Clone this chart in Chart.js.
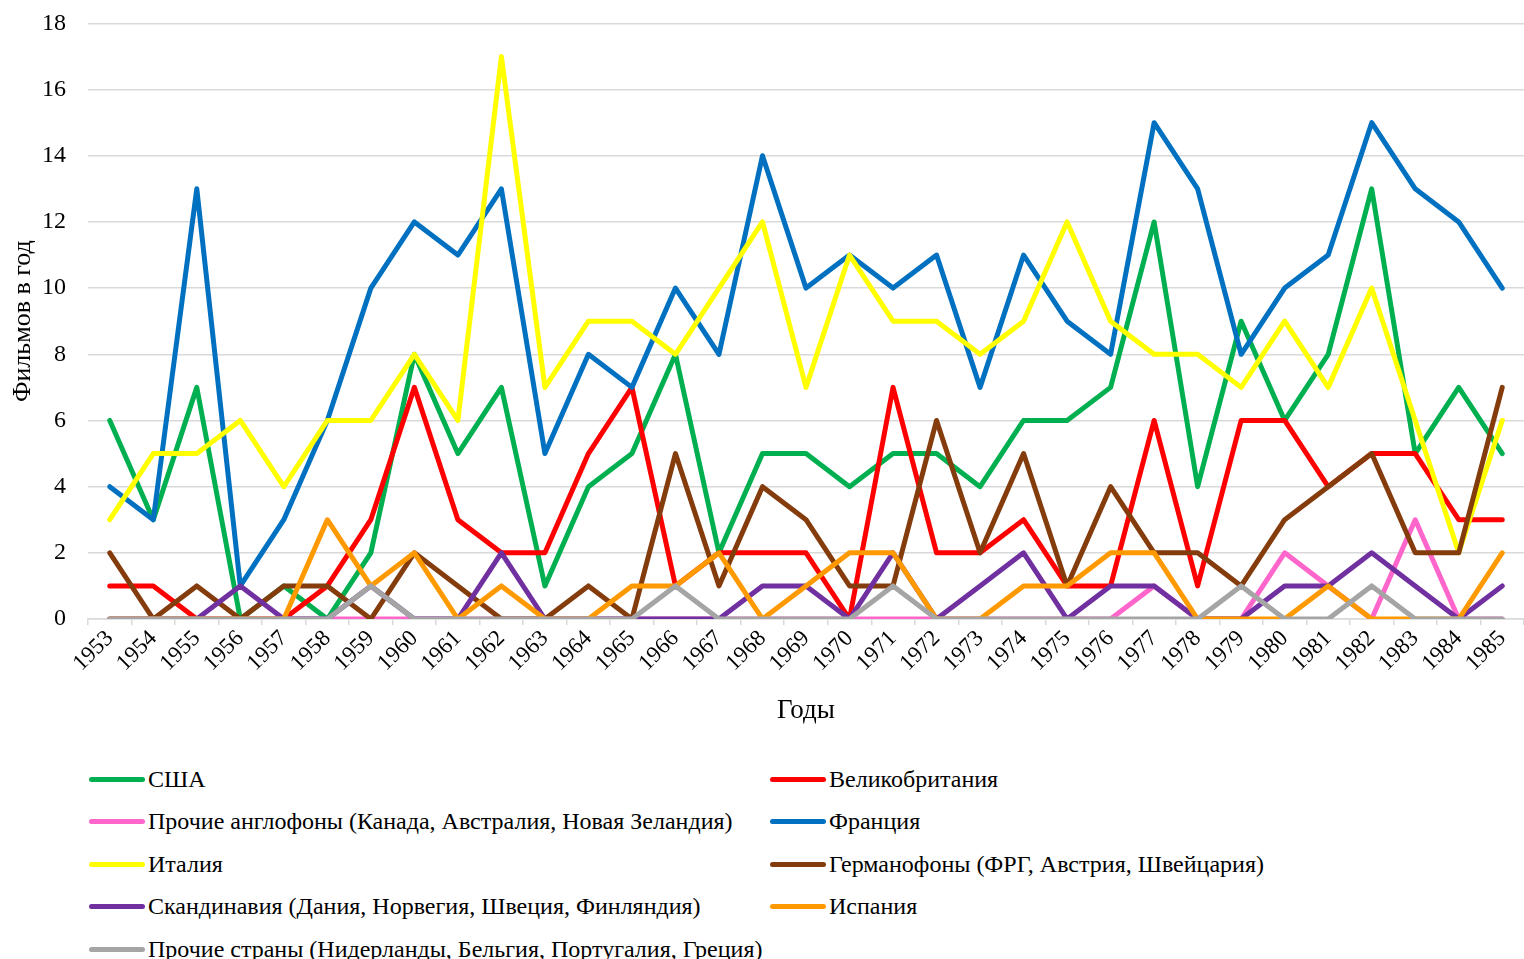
<!DOCTYPE html>
<html>
<head>
<meta charset="utf-8">
<script src="https://cdn.jsdelivr.net/npm/chart.js@4/dist/chart.umd.min.js"></script>
<style>
  body { margin: 0; background: #fff; }
  #wrap { position: relative; width: 1524px; height: 959px; overflow: hidden; }
  #box { position: absolute; left: 0; top: -13px; width: 1524px; height: 754px; }
  #legend {
    position: absolute; left: 89px; top: 758px;
    display: grid; grid-template-columns: 681px auto; grid-auto-rows: 42.5px;
    font-family: "Liberation Serif", "Times New Roman", serif; font-size: 24px; color: #000;
  }
  .item { display: flex; align-items: center; white-space: nowrap; }
  .sw { display: inline-block; width: 56px; height: 5px; border-radius: 3px; margin-right: 3px; }
</style>
</head>
<body>
<div id="wrap">
  <div id="box"><canvas id="chart"></canvas></div>
  <div id="legend"></div>
</div>
<script>
const years = ['1953','1954','1955','1956','1957','1958','1959','1960','1961','1962','1963',
  '1964','1965','1966','1967','1968','1969','1970','1971','1972','1973','1974','1975',
  '1976','1977','1978','1979','1980','1981','1982','1983','1984','1985'];

const usa     = [6,3,7,0,1,0,2,8,5,7,1,4,5,8,2,5,5,4,5,5,4,6,6,7,12,4,9,6,8,13,5,7,5];
const uk      = [1,1,0,0,0,1,3,7,3,2,2,5,7,1,2,2,2,0,7,2,2,3,1,1,6,1,6,6,4,5,5,3,3];
const anglo   = [0,0,0,0,0,0,0,0,0,0,0,0,0,0,0,0,0,0,0,0,0,0,0,0,1,0,0,2,1,0,3,0,0];
const france  = [4,3,13,1,3,6,10,12,11,13,5,8,7,10,8,14,10,11,10,11,7,11,9,8,15,13,8,10,11,15,13,12,10];
const italy   = [3,5,5,6,4,6,6,8,6,17,7,9,9,8,10,12,7,11,9,9,8,9,12,9,8,8,7,9,7,10,6,2,6];
const german  = [2,0,1,0,1,1,0,2,1,0,0,1,0,5,1,4,3,1,1,6,2,5,1,4,2,2,1,3,4,5,2,2,7];
const scand   = [0,0,0,1,0,0,1,0,0,2,0,0,0,0,0,1,1,0,2,0,1,2,0,1,1,0,0,1,1,2,1,0,1];
const spain   = [0,0,0,0,0,3,1,2,0,1,0,0,1,1,2,0,1,2,2,0,0,1,1,2,2,0,0,0,1,0,0,0,2];
const others  = [0,0,0,0,0,0,1,0,0,0,0,0,0,1,0,0,0,0,1,0,0,0,0,0,0,0,1,0,0,1,0,0,0];

const seriesNames = [
  'США',
  'Великобритания',
  'Прочие англофоны (Канада, Австралия, Новая Зеландия)',
  'Франция',
  'Италия',
  'Германофоны (ФРГ, Австрия, Швейцария)',
  'Скандинавия (Дания, Норвегия, Швеция, Финляндия)',
  'Испания',
  'Прочие страны (Нидерланды, Бельгия, Португалия, Греция)'
];
const seriesData = [usa, uk, anglo, france, italy, german, scand, spain, others];
const seriesColors = ['#00B050','#FF0000','#FF66CC','#0070C0','#FFFF00','#843C0C','#7030A0','#FF9900','#A5A5A5'];

const serif = '"Liberation Serif", "Times New Roman", serif';

const datasets = seriesNames.map((name, i) => ({
  label: name,
  data: seriesData[i],
  borderColor: seriesColors[i],
  backgroundColor: seriesColors[i],
  borderWidth: 5,
  borderCapStyle: 'round',
  borderJoinStyle: 'round',
  pointRadius: 0,
  tension: 0,
  fill: false,
  // later series sit on top, as in the original
  order: seriesNames.length - i
}));

const chart = new Chart(document.getElementById('chart'), {
  type: 'line',
  data: { labels: years, datasets: datasets },
  options: {
    responsive: true,
    maintainAspectRatio: false,
    devicePixelRatio: 1,
    animation: false,
    layout: { padding: 0 },
    plugins: {
      legend: { display: false },
      tooltip: { enabled: false }
    },
    scales: {
      x: {
        offset: true,
        grid: { display: true, drawOnChartArea: false, offset: true, tickLength: 6, color: '#d9d9d9', lineWidth: 1.5 },
        border: { display: true, color: '#d9d9d9', width: 1.5 },
        ticks: { color: '#000', font: { family: serif, size: 23 }, minRotation: 45, maxRotation: 45, padding: 0, autoSkip: false },
        title: { display: true, text: 'Годы', color: '#000', font: { family: serif, size: 27 }, padding: { top: 4, bottom: 14 } },
        afterFit: function(scale) { scale.height = 122; }
      },
      y: {
        min: 0,
        max: 18,
        grid: { color: '#d9d9d9', lineWidth: 1.5, drawTicks: false },
        border: { display: false },
        ticks: { stepSize: 2, color: '#000', font: { family: serif, size: 24 }, padding: 22 },
        title: { display: true, text: 'Фильмов в год', color: '#000', font: { family: serif, size: 26 }, padding: { top: 8, bottom: 0 } },
        afterFit: function(scale) { scale.width = 88; }
      }
    }
  }
});

// legend in two columns, like the original
const legendEl = document.getElementById('legend');
chart.data.datasets.forEach(ds => {
  const item = document.createElement('div');
  item.className = 'item';
  item.innerHTML = '<span class="sw" style="background:' + ds.borderColor + '"></span><span>' + ds.label + '</span>';
  legendEl.appendChild(item);
});
</script>
</body>
</html>
